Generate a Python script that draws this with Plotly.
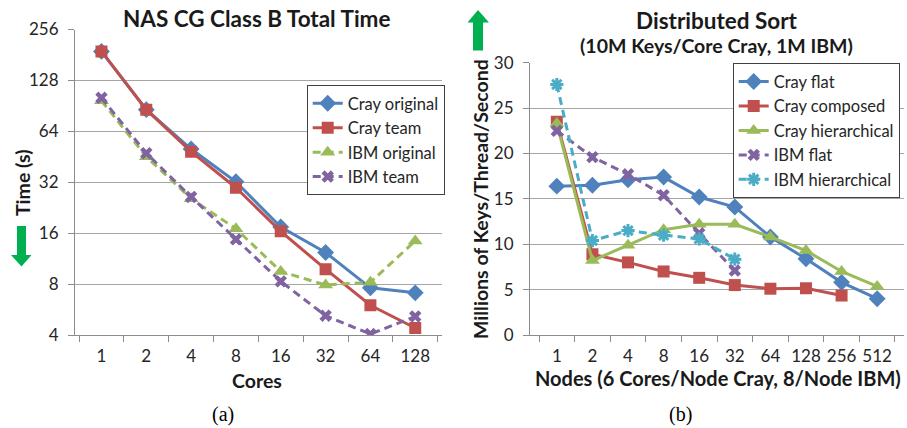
import plotly.graph_objects as go

W, H = 907, 428

# ---------------- data ----------------
cores = ["1", "2", "4", "8", "16", "32", "64", "128"]
cray_original = [190, 86, 50.3, 32.2, 17.4, 12.3, 7.6, 7.1]
cray_team = [190, 86, 48.5, 29.7, 16.4, 9.8, 6.0, 4.4]
ibm_original = [97, 45.3, 25.6, 17.0, 9.5, 7.9, 8.2, 14.4]
ibm_team = [101, 47.5, 26.2, 14.7, 8.3, 5.2, 4.05, 5.15]
time_ticks = [4, 8, 16, 32, 64, 128, 256]

nodes = ["1", "2", "4", "8", "16", "32", "64", "128", "256", "512"]
cray_flat = [16.4, 16.5, 17.1, 17.4, 15.2, 14.1, 10.8, 8.4, 5.8, 4.0]
cray_composed = [23.5, 8.9, 8.0, 7.0, 6.3, 5.5, 5.1, 5.15, 4.35, None]
cray_hier = [23.3, 8.2, 9.9, 11.6, 12.2, 12.2, 10.8, 9.3, 7.0, 5.35]
ibm_flat = [22.5, 19.6, 17.7, 15.4, 11.2, 7.1]
ibm_hier = [27.6, 10.4, 11.5, 11.0, 10.6, 8.35]
keys_ticks = [0, 5, 10, 15, 20, 25, 30]

BLUE, RED, GREEN, PURPLE, CYAN = "#4F81BD", "#C0504D", "#9BBB59", "#8064A2", "#4BACC6"
FONT = "Lato"
TXT = "#262626"
GRID = "#a6a6a6"


def px(x):
    return x / W


def py(y):
    return 1 - y / H


fig = go.Figure()


def add(x, y, name, color, symbol, dashed, xa, ya, legend, size=11):
    mk = dict(symbol=symbol, size=size, color=color)
    if symbol.endswith("-open"):
        mk["line"] = dict(color=color, width=3)
    fig.add_trace(go.Scatter(
        x=x, y=y, name=name, mode="lines+markers", xaxis=xa, yaxis=ya,
        legend=legend, connectgaps=False,
        line=dict(color=color, width=3, dash="8px,5px" if dashed else "solid"),
        marker=mk))


add(cores, cray_original, "Cray original", BLUE, "diamond", False, "x", "y", "legend", 13)
add(cores, cray_team, "Cray team", RED, "square", False, "x", "y", "legend", 12)
add(cores, ibm_original, "IBM original", GREEN, "triangle-up", True, "x", "y", "legend", 13)
add(cores, ibm_team, "IBM team", PURPLE, "x", True, "x", "y", "legend", 11)

add(nodes, cray_flat, "Cray flat", BLUE, "diamond", False, "x2", "y2", "legend2", 13)
add(nodes, cray_composed, "Cray composed", RED, "square", False, "x2", "y2", "legend2", 12)
add(nodes, cray_hier, "Cray hierarchical", GREEN, "triangle-up", False, "x2", "y2", "legend2", 13)
add(nodes[:len(ibm_flat)], ibm_flat, "IBM flat", PURPLE, "x", True, "x2", "y2", "legend2", 11)
add(nodes[:len(ibm_hier)], ibm_hier, "IBM hierarchical", CYAN, "asterisk-open", True, "x2", "y2", "legend2", 11)

axis_common = dict(showline=True, linecolor="#8c8c8c", linewidth=1,
                   tickfont=dict(family=FONT, size=17, color=TXT),
                   ticks="outside", ticklen=6, tickcolor="#8c8c8c", fixedrange=True,
                   automargin=False)

LEG_FONT = dict(family=FONT, size=16.5, color=TXT)

fig.update_layout(
    width=W, height=H, margin=dict(l=0, r=0, t=0, b=0, autoexpand=False),
    paper_bgcolor="white", plot_bgcolor="white",
    font=dict(family=FONT, size=17, color=TXT),
    xaxis=dict(domain=[px(75), px(441.7)], type="category", tickson="boundaries",
               anchor="y", showgrid=False, tickangle=0, ticklabelstandoff=6,
               **axis_common),
    yaxis=dict(domain=[py(335), py(29.5)], type="log", range=[0.60206, 2.40824],
               tickvals=time_ticks, ticktext=[str(v) for v in time_ticks],
               showgrid=True, gridcolor=GRID, gridwidth=1, anchor="x",
               ticklabelstandoff=6, **axis_common),
    xaxis2=dict(domain=[px(530), px(904)], type="category", tickson="boundaries",
                anchor="y2", showgrid=False, tickangle=0, ticklabelstandoff=6,
                **axis_common),
    yaxis2=dict(domain=[py(335), py(62.7)], range=[0, 30], tickvals=keys_ticks,
                showgrid=True, gridcolor=GRID, gridwidth=1, anchor="x2",
                zeroline=False, ticklabelstandoff=6, **axis_common),
    legend=dict(x=px(306.7), y=py(85), xanchor="left", yanchor="top",
                bgcolor="white", bordercolor="#404040", borderwidth=1,
                font=LEG_FONT, tracegroupgap=0),
    legend2=dict(x=px(732.7), y=py(63.3), xanchor="left", yanchor="top",
                 bgcolor="white", bordercolor="#404040", borderwidth=1,
                 font=LEG_FONT, tracegroupgap=0),
    showlegend=True,
)


def text(s, x, y, size, bold=True, angle=0, family=FONT, color="#1a1a1a"):
    fig.add_annotation(text=f"<b>{s}</b>" if bold else s, x=px(x), y=py(y),
                       xref="paper", yref="paper", showarrow=False,
                       xanchor="center", yanchor="middle", textangle=angle,
                       font=dict(family=family, size=size, color=color))


text("NAS CG Class B Total Time", 256, 19, 22.5)
text("Cores", 257, 380, 19.5)
text("Time (s)", 22, 183, 19.5, angle=-90)
text("Distributed Sort", 716.5, 20, 22.5)
text("(10M Keys/Core Cray, 1M IBM)", 716, 46, 19.5)
text("Nodes (6 Cores/Node Cray, 8/Node IBM)", 718, 378, 20)
text("Millions of Keys/Thread/Second", 480, 199, 19.5, angle=-90)
text("(a)", 223, 414, 20, bold=False, family="Liberation Serif", color="#000")
text("(b)", 680, 414, 20, bold=False, family="Liberation Serif", color="#000")


def arrow(points):
    d = "M " + " L ".join(f"{px(a)},{py(b)}" for a, b in points) + " Z"
    fig.add_shape(type="path", path=d, xref="paper", yref="paper",
                  fillcolor="#00B050", line=dict(width=0))


# down arrow (left), up arrow (right)
arrow([(17, 226), (26, 226), (26, 255), (31.5, 255), (21.5, 266.5), (11, 255), (17, 255)])
arrow([(473, 50.5), (483, 50.5), (483, 22.5), (489, 22.5), (478, 10), (467.5, 22.5), (473, 22.5)])

fig.write_html("out.html", config={"displayModeBar": False},
               post_script="document.body.style.margin='0px';")
